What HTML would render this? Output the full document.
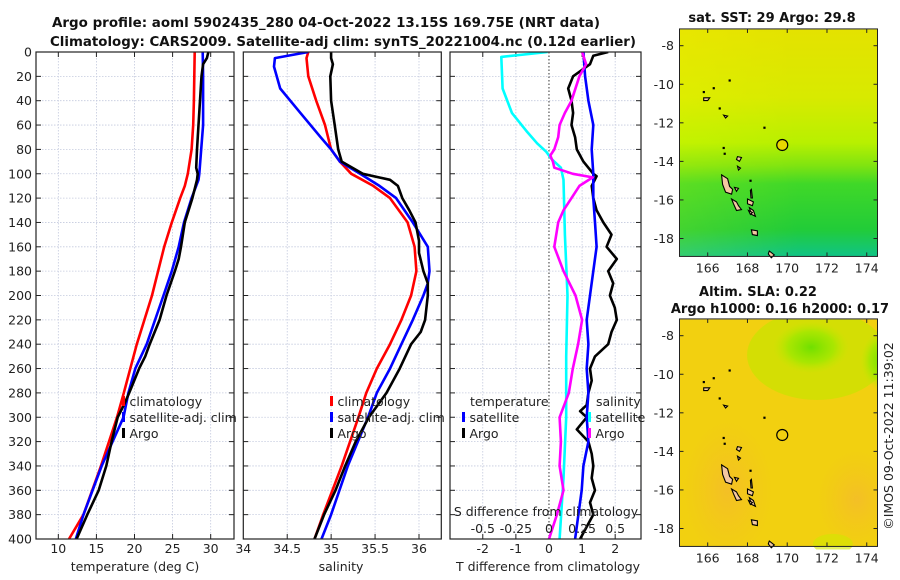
<!DOCTYPE html>
<html><head><meta charset="utf-8"><style>
html,body{margin:0;padding:0;background:#fff;}
svg{display:block;font-family:"DejaVu Sans","Liberation Sans",sans-serif;}
</style></head><body>
<svg id="fig" width="900" height="580" viewBox="0 0 900 580" xmlns="http://www.w3.org/2000/svg">
<defs>
<linearGradient id="sstGrad" x1="0" y1="0" x2="0" y2="1">
<stop offset="0" stop-color="#e4e200"/><stop offset="0.3" stop-color="#d8ea00"/>
<stop offset="0.5" stop-color="#b8f000"/><stop offset="0.6" stop-color="#80e410"/>
<stop offset="0.68" stop-color="#40d828"/><stop offset="0.88" stop-color="#22cc38"/>
<stop offset="1" stop-color="#10c486"/></linearGradient>
<linearGradient id="sstSide" x1="0" y1="0" x2="1" y2="0">
<stop offset="0" stop-color="#ffff00" stop-opacity="0.15"/><stop offset="0.6" stop-color="#ffff00" stop-opacity="0"/></linearGradient>
<radialGradient id="slaG1" cx="0.5" cy="0.5" r="0.5"><stop offset="0" stop-color="#70e000"/><stop offset="0.6" stop-color="#9ee800" stop-opacity="0.8"/><stop offset="1" stop-color="#c0e800" stop-opacity="0"/></radialGradient>
<radialGradient id="slaO" cx="0.5" cy="0.5" r="0.5"><stop offset="0" stop-color="#f4b830" stop-opacity="0.7"/><stop offset="1" stop-color="#f4c020" stop-opacity="0"/></radialGradient>
<clipPath id="c1"><rect x="36" y="52" width="198" height="487"/></clipPath>
<clipPath id="c2"><rect x="243.3" y="52" width="198" height="487"/></clipPath>
<clipPath id="c3"><rect x="450" y="52" width="191" height="487"/></clipPath>
<clipPath id="cm1"><rect x="679.5" y="29.5" width="198" height="230"/></clipPath>
<clipPath id="cm2"><rect x="679.5" y="319.5" width="198" height="230"/></clipPath>
</defs>
<g id="root"></g>
</svg>
<script>
// ---- Panel 1: temperature (deg C) vs depth (m)
const tDepthClim = [0,20,40,60,80,100,110,120,140,160,180,200,240,280,300,340,380,400];
const tClim      = [27.9,27.85,27.8,27.7,27.5,27.0,26.6,26.0,24.9,23.9,23.1,22.3,20.3,18.6,17.7,15.6,13.3,11.4];
const tDepthSat  = [0,20,60,100,105,120,140,160,180,200,240,260,280,300,340,380,400];
const tSat       = [28.95,29.0,29.0,28.5,28.4,27.5,26.5,25.8,24.9,23.8,21.6,20.1,19.2,18.55,15.7,13.3,12.3];
const tDepthArgo = [0,5,10,20,40,60,80,95,100,105,120,140,160,170,180,200,220,240,250,260,280,290,300,320,340,360,380,400];
const tArgo      = [29.7,29.5,29.0,28.8,28.6,28.4,28.2,28.1,28.3,28.2,27.6,26.6,26.1,25.8,25.3,24.2,23.3,22.0,21.4,20.6,19.3,18.6,17.8,17.0,16.3,15.3,13.8,12.4];
// ---- Panel 2: salinity vs depth
const sDepthClim = [0,5,20,40,60,80,90,100,110,120,140,160,180,200,220,240,260,280,300,340,380,400];
const sClim      = [34.74,34.72,34.74,34.83,34.93,35.0,35.1,35.23,35.48,35.67,35.87,35.95,35.97,35.91,35.80,35.67,35.52,35.40,35.31,35.12,34.91,34.81];
const sDepthSat  = [0,5,12,30,50,70,80,90,100,110,120,140,160,180,190,200,220,240,260,280,300,340,380,400];
const sSat       = [34.74,34.36,34.35,34.42,34.65,34.88,35.0,35.1,35.33,35.55,35.74,35.93,36.1,36.12,36.1,36.05,35.93,35.8,35.67,35.52,35.42,35.19,35.0,34.89];
const sDepthArgo = [0,5,10,20,40,60,80,90,100,105,110,120,130,140,155,165,180,190,200,220,230,240,260,280,300,320,340,360,380,400];
const sArgo      = [35.0,35.0,35.02,34.99,35.0,35.04,35.08,35.12,35.36,35.67,35.76,35.81,35.89,35.96,36.0,36.0,36.05,36.1,36.1,36.07,36.02,35.91,35.78,35.63,35.43,35.28,35.16,35.05,34.92,34.81];
// ---- Panel 3: differences from climatology
const dDepthTSat  = [0,20,40,60,80,100,120,140,160,180,200,220,240,260,280,300,320,340,360,380,400];
const dTSat       = [1.04,1.09,1.19,1.34,1.29,1.34,1.34,1.39,1.44,1.34,1.24,1.14,1.19,1.14,1.19,1.14,1.19,1.04,0.99,0.89,0.79];
const dDepthTArgo = [0,3,10,20,30,40,50,60,70,80,90,100,102,110,120,130,140,150,160,170,180,190,200,210,220,230,240,250,260,270,280,290,295,300,310,320,330,340,350,360,370,380,390,400];
const dTArgo      = [1.79,1.34,1.24,0.73,0.58,0.68,0.73,0.68,0.79,0.84,1.04,1.34,1.44,1.29,1.34,1.44,1.64,1.89,1.74,2.05,1.79,1.94,1.84,1.99,2.05,1.89,1.79,1.39,1.24,1.29,1.19,1.14,0.94,1.14,0.84,1.19,1.29,1.34,1.29,1.39,1.24,1.34,1.14,0.94];
const dDepthSSat  = [0,4,30,50,65,75,82,88,95,105,150,200,250,300,350,400];
const dSSat       = [-0.01,-0.36,-0.35,-0.28,-0.17,-0.09,-0.02,0.02,0.09,0.11,0.12,0.14,0.13,0.13,0.11,0.08];
const dDepthSArgo = [0,10,20,40,50,60,70,80,85,90,95,100,103,110,120,130,140,160,180,200,220,240,260,280,300,320,340,360,380,400];
const dSArgo      = [0.25,0.28,0.23,0.17,0.12,0.08,0.07,0.04,0.01,0.03,0.04,0.18,0.33,0.23,0.17,0.11,0.07,0.04,0.11,0.2,0.25,0.22,0.18,0.15,0.08,0.09,0.08,0.11,0.06,0.0];
// ---- axis tick labels
const depthTicks = [0,20,40,60,80,100,120,140,160,180,200,220,240,260,280,300,320,340,360,380,400];
const tTicks = [10,15,20,25,30];
const sTicks = [34,34.5,35,35.5,36];
const sTickLabels = ["34","34.5","35","35.5","36"];
const dTTicks = [-2,-1,0,1,2];
const dSTicks = [-0.5,-0.25,0,0.25,0.5];
const dSTickLabels = ["-0.5","-0.25","0","0.25","0.5"];
const lonTicks = [166,168,170,172,174];
const latTicks = [-8,-10,-12,-14,-16,-18];
const argoLon = 169.75, argoLat = -13.15;

const NS="http://www.w3.org/2000/svg";
const root=document.getElementById('root');
function mk(tag,attrs,parent){const e=document.createElementNS(NS,tag);for(const k in attrs)e.setAttribute(k,attrs[k]);(parent||root).appendChild(e);return e;}
function txt(s,x,y,attrs,parent){const e=mk('text',Object.assign({x:x,y:y,'font-size':12.5,fill:'#222'},attrs),parent);e.textContent=s;return e;}

const Y0=52, Y1=539;
const yD = d => Y0 + d/400*(Y1-Y0);
function xf(x0,x1,vmin,vmax){return v=>x0+(v-vmin)/(vmax-vmin)*(x1-x0);}
const P1={x0:36,x1:234,f:xf(36,234,7.07,33.06)};
const P2={x0:243.3,x1:441.3,f:xf(243.3,441.3,34,36.254)};
const P3={x0:450,x1:641,f:xf(450,641,-2.99,2.78)};
const fS3 = s => P3.f(s*4);

function frame(P,name,gridX){
  const g=mk('g',{});
  
  
  mk('rect',{x:P.x0,y:Y0,width:P.x1-P.x0,height:Y1-Y0,fill:'#fff'},g);
  depthTicks.forEach(d=>{
    if(d>0&&d<400) mk('line',{x1:P.x0,x2:P.x1,y1:yD(d),y2:yD(d),stroke:'#c4cade','stroke-width':0.8,'stroke-dasharray':'1.5,1.5'},g);
    mk('line',{x1:P.x0,x2:P.x0+5,y1:yD(d),y2:yD(d),stroke:'#222','stroke-width':1},g);
    mk('line',{x1:P.x1-5,x2:P.x1,y1:yD(d),y2:yD(d),stroke:'#222','stroke-width':1},g);
  });
  gridX.forEach(v=>{
    const x=P.f(v);
    mk('line',{x1:x,x2:x,y1:Y0,y2:Y1,stroke:'#c4cade','stroke-width':0.8,'stroke-dasharray':'1.5,1.5'},g);
    mk('line',{x1:x,x2:x,y1:Y0,y2:Y0+5,stroke:'#222'},g);
    mk('line',{x1:x,x2:x,y1:Y1-5,y2:Y1,stroke:'#222'},g);
  });
  return g;
}
function line(P,clip,depths,vals,fx,color,name,w){
  const pts=depths.map((d,i)=>fx(vals[i]).toFixed(1)+','+yD(d).toFixed(1)).join(' ');
  const e=mk('polyline',{points:pts,fill:'none',stroke:color,'stroke-width':w||2.6,'stroke-linejoin':'round','clip-path':'url(#'+clip+')'});
  
  
}
function box(P){mk('rect',{x:P.x0,y:Y0,width:P.x1-P.x0,height:Y1-Y0,fill:'none',stroke:'#222','stroke-width':1.2});}

// Titles
const t1=txt('Argo profile: aoml 5902435_280 04-Oct-2022 13.15S 169.75E (NRT data)',326,27,{'font-weight':'bold','font-size':13,'text-anchor':'middle',textLength:548,lengthAdjust:'spacingAndGlyphs',fill:'#111'});


const t2=txt('Climatology: CARS2009. Satellite-adj clim: synTS_20221004.nc (0.12d earlier)',343,46,{'font-weight':'bold','font-size':13,'text-anchor':'middle',textLength:586,lengthAdjust:'spacingAndGlyphs',fill:'#111'});



// Depth labels
depthTicks.forEach(d=>{
  const e=txt(String(d),32,yD(d)+4.5,{'text-anchor':'end'});
  
  
});

// Panel 1
frame(P1,'temperature-panel',tTicks);
line(P1,'c1',tDepthClim,tClim,P1.f,'#ff0000','temp-climatology-line');
line(P1,'c1',tDepthSat,tSat,P1.f,'#0000ff','temp-satellite-line');
line(P1,'c1',tDepthArgo,tArgo,P1.f,'#000000','temp-argo-line');
box(P1);
tTicks.forEach(v=>{const e=txt(String(v),P1.f(v),553,{'text-anchor':'middle'});});
const xl1=txt('temperature (deg C)',135,571,{'text-anchor':'middle'});



// Panel 2
frame(P2,'salinity-panel',sTicks.slice(1));
line(P2,'c2',sDepthClim,sClim,P2.f,'#ff0000','sal-climatology-line');
line(P2,'c2',sDepthSat,sSat,P2.f,'#0000ff','sal-satellite-line');
line(P2,'c2',sDepthArgo,sArgo,P2.f,'#000000','sal-argo-line');
box(P2);
sTicks.forEach((v,i)=>{const e=txt(sTickLabels[i],P2.f(v),553,{'text-anchor':'middle'});});
const xl2=txt('salinity',341,571,{'text-anchor':'middle'});



// Panel 3
frame(P3,'difference-panel',[-2,-1,1,2]);
mk('line',{x1:P3.f(0),x2:P3.f(0),y1:Y0,y2:Y1,stroke:'#333','stroke-width':1,'stroke-dasharray':'1.5,2'});
line(P3,'c3',dDepthSSat,dSSat,fS3,'#00ffff','sal-satellite-diff-line');
line(P3,'c3',dDepthTArgo,dTArgo,P3.f,'#000000','temp-argo-diff-line');
line(P3,'c3',dDepthTSat,dTSat,P3.f,'#0000ff','temp-satellite-diff-line');
line(P3,'c3',dDepthSArgo,dSArgo,fS3,'#ff00ff','sal-argo-diff-line');
box(P3);
dTTicks.forEach(v=>{const e=txt(String(v),P3.f(v),553,{'text-anchor':'middle'});});
dSTicks.forEach((v,i)=>{const e=txt(dSTickLabels[i],fS3(v),533,{'text-anchor':'middle'});});
const xl3=txt('T difference from climatology',548,571,{'text-anchor':'middle'});


const sl3=txt('S difference from climatology',546,516,{'text-anchor':'middle'});



// Legends
function legend(x,y,label,color,name){
  const g=mk('g',{});
  
  
  if(color) mk('rect',{x:x-1.5,y:y-9,width:3,height:10,fill:color},g);
  txt(label,x+6,y+1,{'font-size':12.5},g);
}
legend(123.5,405,'climatology','#ff0000','legend-climatology');
legend(123.5,421,'satellite-adj. clim','#0000ff','legend-satellite');
legend(123.5,437,'Argo','#000000','legend-argo');
legend(331.5,405,'climatology','#ff0000','legend-sal-climatology');
legend(331.5,421,'satellite-adj. clim','#0000ff','legend-sal-satellite');
legend(331.5,437,'Argo','#000000','legend-sal-argo');
legend(464,405,'temperature',null,'legend-temperature-header');
legend(463.5,421,'satellite','#0000ff','legend-tdiff-satellite');
legend(463.5,437,'Argo','#000000','legend-tdiff-argo');
legend(590,405,'salinity',null,'legend-salinity-header');
legend(589.5,421,'satellite','#00ffff','legend-sdiff-satellite');
legend(589.5,437,'Argo','#ff00ff','legend-sdiff-argo');

// ---- Maps
const islands=[
 [[166.7,-14.7],[167.0,-14.9],[167.1,-15.3],[167.25,-15.45],[167.2,-15.7],[166.9,-15.6],[166.75,-15.2]],
 [[167.2,-15.95],[167.45,-16.1],[167.55,-16.3],[167.7,-16.5],[167.45,-16.55],[167.3,-16.2]],
 [[168.2,-15.45],[168.25,-15.9],[168.18,-15.9],[168.15,-15.5]],
 [[168.0,-15.95],[168.3,-16.1],[168.25,-16.3],[168.0,-16.2]],
 [[168.1,-16.4],[168.3,-16.55],[168.4,-16.85],[168.2,-16.75]],
 [[168.2,-17.55],[168.5,-17.6],[168.5,-17.85],[168.25,-17.8]],
 [[169.1,-18.65],[169.35,-18.85],[169.2,-19.0],[169.05,-18.8]],
 [[167.5,-13.75],[167.7,-13.8],[167.6,-14.0],[167.45,-13.9]],
 [[167.5,-14.25],[167.65,-14.35],[167.55,-14.45]],
 [[167.35,-15.35],[167.55,-15.4],[167.45,-15.55]],
 [[168.05,-16.55],[168.25,-16.65],[168.15,-16.75]],
 [[166.8,-11.6],[167.0,-11.65],[166.9,-11.75]],
 [[165.8,-10.7],[166.1,-10.7],[166.0,-10.85],[165.8,-10.85]]
];
const dots=[[165.8,-10.4],[166.3,-10.2],[166.6,-11.25],[167.1,-9.8],[168.85,-12.25],[166.8,-13.3],[166.85,-13.6],[168.15,-15.0]];
function drawMap(mx,my,clip,name,isSST){
  const g=mk('g',{});
  
  
  const fx=lon=>707.7+(lon-166)*19.88, fy=lat=>my+(-8-lat)*19.28;
  const cg=mk('g',{'clip-path':'url(#'+clip+')'},g);
  const top=fy(-7.13), bot=fy(-18.93);
  if(isSST){
    mk('rect',{x:679.5,y:top,width:198,height:bot-top,fill:'url(#sstGrad)'},cg);
    mk('rect',{x:679.5,y:top,width:198,height:bot-top,fill:'url(#sstSide)'},cg);
  } else {
    mk('rect',{x:679.5,y:top,width:198,height:bot-top,fill:'#f2d010'},cg);
    mk('ellipse',{cx:fx(167),cy:fy(-16),rx:45,ry:70,fill:'url(#slaO)'},cg);
    mk('ellipse',{cx:fx(173.5),cy:fy(-16.5),rx:40,ry:50,fill:'url(#slaO)'},cg);
    mk('ellipse',{cx:fx(171.5),cy:fy(-9),rx:70,ry:45,fill:'#c8e400',opacity:0.7},cg);
    mk('ellipse',{cx:fx(171.2),cy:fy(-8.6),rx:38,ry:26,fill:'url(#slaG1)'},cg);
    mk('ellipse',{cx:fx(174.8),cy:fy(-9.3),rx:22,ry:30,fill:'url(#slaG1)'},cg);
    mk('ellipse',{cx:fx(172.3),cy:fy(-18.8),rx:20,ry:10,fill:'#d0e800',opacity:0.6},cg);
  }
  islands.forEach(p=>{
    mk('polygon',{points:p.map(q=>fx(q[0]).toFixed(1)+','+fy(q[1]).toFixed(1)).join(' '),fill:'#f4c8a0',stroke:'#000','stroke-width':1.1},cg);
  });
  dots.forEach(q=>mk('rect',{x:fx(q[0])-1,y:fy(q[1])-1,width:2.2,height:2.2,fill:'#000'},cg));
  const c=mk('circle',{cx:fx(argoLon),cy:fy(argoLat),r:5.5,fill:isSST?'#e8d800':'none',stroke:'#000','stroke-width':1.2},g);
  
  
  mk('rect',{x:679.5,y:top,width:198,height:bot-top,fill:'none',stroke:'#222','stroke-width':1},g);
  lonTicks.forEach(l=>{
    const x=fx(l);
    mk('line',{x1:x,x2:x,y1:bot,y2:bot-4,stroke:'#222'},g);
    mk('line',{x1:x,x2:x,y1:top,y2:top+4,stroke:'#222'},g);
    const e=txt(String(l),x,bot+16,{'text-anchor':'middle'},g);
    
    
  });
  latTicks.forEach(l=>{
    const y=fy(l);
    mk('line',{x1:679.5,x2:683.5,y1:y,y2:y,stroke:'#222'},g);
    mk('line',{x1:877.5,x2:873.5,y1:y,y2:y,stroke:'#222'},g);
    const e=txt(String(l),674,y+4.5,{'text-anchor':'end'},g);
    
    
  });
}
drawMap(0,45.7,'cm1','sst-map',true);
drawMap(0,335.7,'cm2','sla-map',false);
const mt1=txt('sat. SST: 29 Argo: 29.8',772,22,{'font-weight':'bold','font-size':13,'text-anchor':'middle',fill:'#111'});


const mt2=txt('Altim. SLA: 0.22',758,296,{'font-weight':'bold','font-size':13,'text-anchor':'middle',fill:'#111'});


const mt3=txt('Argo h1000: 0.16 h2000: 0.17',780,313,{'font-weight':'bold','font-size':13,'text-anchor':'middle',fill:'#111'});


const cr=txt('©IMOS 09-Oct-2022 11:39:02',0,0,{'font-size':12.5,'text-anchor':'middle',transform:'translate(893,436) rotate(-90)'});


</script>
</body></html>
